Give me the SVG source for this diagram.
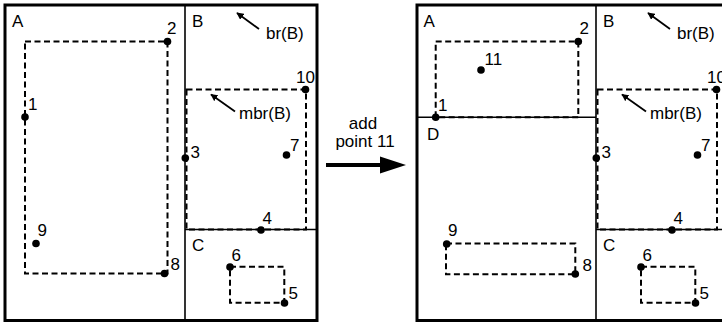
<svg xmlns="http://www.w3.org/2000/svg" width="722" height="323" viewBox="0 0 722 323">
  <style>
    .frame { fill: none; stroke: #000; stroke-width: 3; }
    .split { fill: none; stroke: #000; stroke-width: 1.6; }
    .mbr { fill: none; stroke: #000; stroke-width: 2; stroke-dasharray: 6 3.5; }
    .pt { fill: #000; }
    .lbl { font-family: "Liberation Sans", Arial, Helvetica, sans-serif; font-size: 17px; fill: #000; }
    .ptr { stroke: #000; stroke-width: 1.8; fill: none; marker-end: url(#tip); }
    .bigarrow { stroke: #000; stroke-width: 4; fill: none; }
  </style>
  <defs>
    <marker id="tip" viewBox="0 0 10 10" refX="9" refY="5" markerWidth="4" markerHeight="4" orient="auto" markerUnits="strokeWidth">
      <path d="M0,0 L10,5 L0,10 z" fill="#000"/>
    </marker>
  </defs>

  <rect width="722" height="323" fill="#fff"/>

  <!-- before: left tree -->
  <g id="before">
    <rect class="frame" x="5" y="5" width="312" height="315.5"/>
    <line class="split" x1="185" y1="5" x2="185" y2="320.5"/>

    <g id="before-A">
      <text class="lbl" x="12" y="27">A</text>
      <rect class="mbr" x="25" y="41.5" width="142.5" height="232"/>
      <circle class="pt" cx="25" cy="117" r="3.8"/>
      <text class="lbl" x="28" y="110">1</text>
      <circle class="pt" cx="167.5" cy="41.5" r="3.8"/>
      <text class="lbl" x="167" y="34">2</text>
      <circle class="pt" cx="36" cy="243.5" r="3.8"/>
      <text class="lbl" x="37.5" y="236">9</text>
      <circle class="pt" cx="164.5" cy="273.5" r="3.8"/>
      <text class="lbl" x="170.5" y="270">8</text>
    </g>

    <g id="before-BC">
      <line class="split" x1="185" y1="229.5" x2="317" y2="229.5"/>
      <text class="lbl" x="192" y="27.3">B</text>
      <line class="ptr" x1="259" y1="29" x2="237" y2="13"/>
      <text class="lbl" x="266" y="39">br(B)</text>
      <rect class="mbr" x="186.5" y="89.5" width="119.5" height="140"/>
      <line class="ptr" x1="235" y1="111.5" x2="211" y2="94.5"/>
      <text class="lbl" x="239" y="118.5">mbr(B)</text>
      <circle class="pt" cx="305.5" cy="89.5" r="3.8"/>
      <text class="lbl" x="296" y="83">10</text>
      <circle class="pt" cx="185.3" cy="158" r="3.8"/>
      <text class="lbl" x="190.5" y="158">3</text>
      <circle class="pt" cx="286.5" cy="155" r="3.8"/>
      <text class="lbl" x="290" y="151">7</text>
      <circle class="pt" cx="261" cy="230" r="3.8"/>
      <text class="lbl" x="262.5" y="224">4</text>
      <text class="lbl" x="192" y="250.5">C</text>
      <rect class="mbr" x="230" y="266.7" width="54.3" height="36"/>
      <circle class="pt" cx="230" cy="267" r="3.8"/>
      <text class="lbl" x="231.5" y="260.5">6</text>
      <circle class="pt" cx="284.5" cy="303" r="3.8"/>
      <text class="lbl" x="288.5" y="298.5">5</text>
    </g>
  </g>

  <!-- insertion step -->
  <g id="step">
    <text class="lbl" x="363" y="129" text-anchor="middle">add</text>
    <text class="lbl" x="365" y="146.5" text-anchor="middle">point 11</text>
    <line class="bigarrow" x1="326" y1="165" x2="382" y2="165"/>
    <path d="M380,156.5 L406,165 L380,173.5 z" fill="#000"/>
  </g>

  <!-- after: right tree, node A split into A and D -->
  <g id="after">
    <rect class="frame" x="417" y="5" width="320" height="315.5"/>
    <line class="split" x1="596" y1="5" x2="596" y2="320.5"/>
    <line class="split" x1="417" y1="117.3" x2="596" y2="117.3"/>

    <g id="after-A">
      <text class="lbl" x="423.5" y="27">A</text>
      <rect class="mbr" x="435.7" y="41.5" width="142.6" height="75.8"/>
      <circle class="pt" cx="435.7" cy="117.3" r="3.8"/>
      <text class="lbl" x="438" y="110.5">1</text>
      <circle class="pt" cx="578.3" cy="41.5" r="3.8"/>
      <text class="lbl" x="579.5" y="33.5">2</text>
      <circle class="pt" cx="481" cy="70" r="3.8"/>
      <text class="lbl" x="484.5" y="65">11</text>
    </g>

    <g id="after-D">
      <text class="lbl" x="427" y="139.5">D</text>
      <rect class="mbr" x="446" y="243.5" width="129.3" height="30.8"/>
      <circle class="pt" cx="446.7" cy="244" r="3.8"/>
      <text class="lbl" x="448" y="236">9</text>
      <circle class="pt" cx="575.3" cy="274" r="3.8"/>
      <text class="lbl" x="582.5" y="270.5">8</text>
    </g>

    <g id="after-BC" transform="translate(411,0)">
      <line class="split" x1="185" y1="229.5" x2="317" y2="229.5"/>
      <text class="lbl" x="192" y="27.3">B</text>
      <line class="ptr" x1="259" y1="29" x2="237" y2="13"/>
      <text class="lbl" x="266" y="39">br(B)</text>
      <rect class="mbr" x="186.5" y="89.5" width="119.5" height="140"/>
      <line class="ptr" x1="235" y1="111.5" x2="211" y2="94.5"/>
      <text class="lbl" x="239" y="118.5">mbr(B)</text>
      <circle class="pt" cx="305.5" cy="89.5" r="3.8"/>
      <text class="lbl" x="296" y="83">10</text>
      <circle class="pt" cx="185.3" cy="158" r="3.8"/>
      <text class="lbl" x="190.5" y="158">3</text>
      <circle class="pt" cx="286.5" cy="155" r="3.8"/>
      <text class="lbl" x="290" y="151">7</text>
      <circle class="pt" cx="261" cy="230" r="3.8"/>
      <text class="lbl" x="262.5" y="224">4</text>
      <text class="lbl" x="192" y="250.5">C</text>
      <rect class="mbr" x="230" y="266.7" width="54.3" height="36"/>
      <circle class="pt" cx="230" cy="267" r="3.8"/>
      <text class="lbl" x="231.5" y="260.5">6</text>
      <circle class="pt" cx="284.5" cy="303" r="3.8"/>
      <text class="lbl" x="288.5" y="298.5">5</text>
    </g>
  </g>
</svg>
